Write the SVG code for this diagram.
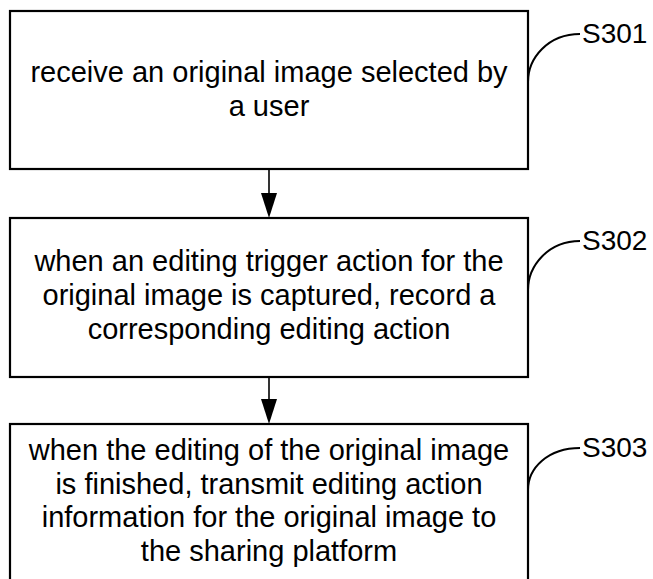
<svg xmlns="http://www.w3.org/2000/svg" width="653" height="579" viewBox="0 0 653 579">
<defs>
<style>
.box{fill:#fff;stroke:#000;stroke-width:2.2}
.t{font-family:"Liberation Sans",Arial,sans-serif;font-size:29px;fill:#000;text-anchor:middle}
.lbl{font-family:"Liberation Sans",Arial,sans-serif;font-size:28px;fill:#000}
.ln{fill:none;stroke:#000;stroke-width:1.6}
.cv{fill:none;stroke:#000;stroke-width:2}
</style>
<marker id="ah" viewBox="0 0 16 25" refX="8" refY="25" markerWidth="16" markerHeight="25" markerUnits="userSpaceOnUse" orient="auto-start-reverse">
<path d="M0,0 L16,0 L8,25 Z" fill="#000"/>
</marker>
</defs>
<rect width="653" height="579" fill="#fff"/>
<g id="S301">
<rect class="box" x="10" y="11" width="518" height="158"/>
<text class="t" x="269" y="82">receive an original image selected by</text>
<text class="t" x="269" y="116">a user</text>
<path class="cv" d="M528,82 C528,58 548,34 580,34"/>
<text class="lbl" x="582" y="43">S301</text>
</g>
<g id="S302">
<rect class="box" x="10" y="218" width="518" height="159"/>
<text class="t" x="269" y="271">when an editing trigger action for the</text>
<text class="t" x="269" y="305">original image is captured, record a</text>
<text class="t" x="269" y="339">corresponding editing action</text>
<path class="cv" d="M528,290 C528,266 548,241 580,241"/>
<text class="lbl" x="582" y="250">S302</text>
</g>
<g id="S303">
<rect class="box" x="10" y="424" width="518" height="170"/>
<text class="t" x="269" y="460">when the editing of the original image</text>
<text class="t" x="269" y="494">is finished, transmit editing action</text>
<text class="t" x="269" y="527">information for the original image to</text>
<text class="t" x="269" y="561">the sharing platform</text>
<path class="cv" d="M528,490 C528,468 548,448 580,448"/>
<text class="lbl" x="582" y="457">S303</text>
</g>
<g id="connectors">
<path class="ln" d="M269,169 L269,194"/>
<path d="M261,193 L277,193 L269,218 Z" fill="#000"/>
<path class="ln" d="M269,377 L269,400"/>
<path d="M261,399 L277,399 L269,424 Z" fill="#000"/>
</g>
</svg>
